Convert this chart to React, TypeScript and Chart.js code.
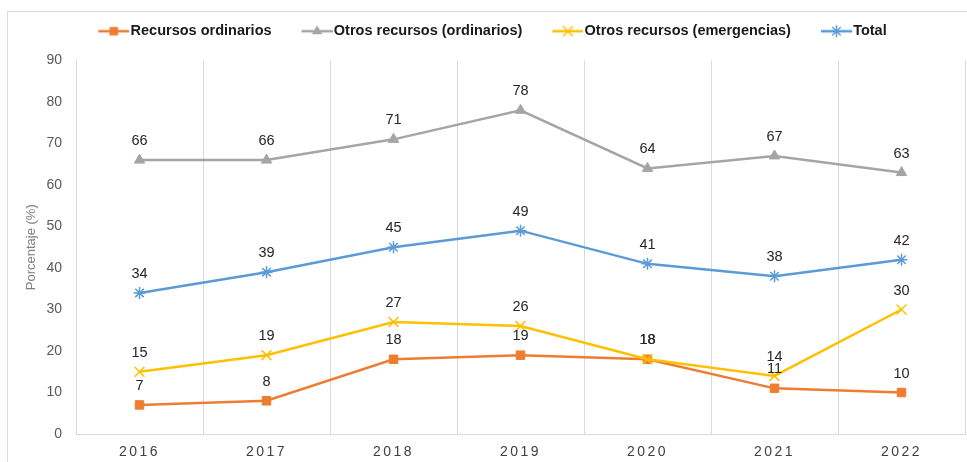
import React, { useEffect, useRef } from "react";
import { Chart, registerables } from "chart.js";

Chart.register(...registerables);

const categories = ["2016", "2017", "2018", "2019", "2020", "2021", "2022"];
const recursosOrdinarios = [7, 8, 18, 19, 18, 11, 10];
const otrosOrdinarios = [66, 66, 71, 78, 64, 67, 63];
const otrosEmergencias = [15, 19, 27, 26, 18, 14, 30];
const total = [34, 39, 45, 49, 41, 38, 42];
const seriesNames = [
  "Recursos ordinarios",
  "Otros recursos (ordinarios)",
  "Otros recursos (emergencias)",
  "Total",
];
const yTicks = [0, 10, 20, 30, 40, 50, 60, 70, 80, 90];

const FONT = "'Liberation Sans', Arial, sans-serif";
const colors = ["#ED7D31", "#A5A5A5", "#FFC000", "#5B9BD5"];
const markers = ["rect", "triangle", "crossRot", "star"];
const radii = [6, 6, 7, 6];

function drawMarker(ctx: CanvasRenderingContext2D, style: string, x: number, y: number, r: number, color: string) {
  ctx.fillStyle = color;
  ctx.strokeStyle = color;
  ctx.lineWidth = 1.5;
  ctx.beginPath();
  if (style === "rect") {
    const s = Math.SQRT1_2 * r;
    ctx.rect(x - s, y - s, 2 * s, 2 * s);
    ctx.fill();
  } else if (style === "triangle") {
    ctx.moveTo(x, y - r);
    ctx.lineTo(x + r * 0.866, y + r * 0.5);
    ctx.lineTo(x - r * 0.866, y + r * 0.5);
    ctx.closePath();
    ctx.fill();
  } else if (style === "crossRot") {
    const o = Math.SQRT1_2 * r;
    ctx.moveTo(x - o, y - o);
    ctx.lineTo(x + o, y + o);
    ctx.moveTo(x + o, y - o);
    ctx.lineTo(x - o, y + o);
    ctx.stroke();
  } else {
    const o = Math.SQRT1_2 * r;
    ctx.moveTo(x - o, y - o);
    ctx.lineTo(x + o, y + o);
    ctx.moveTo(x + o, y - o);
    ctx.lineTo(x - o, y + o);
    ctx.moveTo(x - r, y);
    ctx.lineTo(x + r, y);
    ctx.moveTo(x, y - r);
    ctx.lineTo(x, y + r);
    ctx.stroke();
  }
}

function legendImage(i: number): HTMLCanvasElement {
  const W = 57;
  const H = 14;
  const c = document.createElement("canvas");
  c.width = W;
  c.height = H;
  const ctx = c.getContext("2d")!;
  ctx.strokeStyle = colors[i];
  ctx.lineWidth = 2.5;
  ctx.beginPath();
  ctx.moveTo(W - 31, H / 2);
  ctx.lineTo(W, H / 2);
  ctx.stroke();
  drawMarker(ctx, markers[i], W - 15.5, H / 2, radii[i], colors[i]);
  return c;
}

const dataLabelPlugin = {
  id: "dataLabels",
  afterDatasetsDraw(chart: any) {
    const ctx = chart.ctx;
    ctx.save();
    ctx.font = `14.5px ${FONT}`;
    ctx.fillStyle = "#262626";
    ctx.textAlign = "center";
    ctx.textBaseline = "middle";
    chart.data.datasets.forEach((ds: any, di: number) => {
      const meta = chart.getDatasetMeta(di);
      meta.data.forEach((pt: any, i: number) => {
        ctx.fillText(String(ds.data[i]), pt.x, pt.y - 19);
      });
    });
    ctx.restore();
  },
};

const spacingPlugin = {
  id: "xLetterSpacing",
  beforeDraw(chart: any) {
    const sx = chart.scales.x;
    if (sx && !sx.__patched) {
      const orig = sx.drawLabels.bind(sx);
      sx.drawLabels = (area: any) => {
        const c = sx.ctx;
        c.save();
        (c as any).letterSpacing = "2.5px";
        orig(area);
        c.restore();
      };
      sx.__patched = true;
    }
  },
};

export default function App() {
  const ref = useRef<HTMLCanvasElement | null>(null);

  useEffect(() => {
    if (!ref.current) return;
    const seriesData = [recursosOrdinarios, otrosOrdinarios, otrosEmergencias, total];
    const images = [0, 1, 2, 3].map(legendImage);
    const chart = new Chart(ref.current, {
      type: "line",
      data: {
        labels: categories,
        datasets: seriesData.map((d, i) => ({
          label: seriesNames[i],
          data: d,
          borderColor: colors[i],
          backgroundColor: colors[i],
          borderWidth: 2.5,
          pointStyle: markers[i] as any,
          pointRadius: radii[i],
          pointHoverRadius: radii[i],
          pointBorderWidth: i >= 2 ? 1.5 : 1,
          pointBorderColor: colors[i],
          pointBackgroundColor: colors[i],
          tension: 0,
          fill: false,
          order: 4 - i,
        })),
      },
      options: {
        responsive: false,
        animation: false,
        layout: { autoPadding: false, padding: { top: 14, left: 0, right: 2, bottom: 0 } },
        scales: {
          x: {
            offset: true,
            grid: { display: true, offset: true, color: "#D9D9D9", drawTicks: false, lineWidth: 1 },
            border: { display: true, color: "#D9D9D9" },
            ticks: { color: "#404040", font: { family: FONT, size: 14 }, padding: 10 },
            afterFit: (s: any) => {
              s.height = 28;
              s.paddingLeft = 0;
              s.paddingRight = 0;
            },
          },
          y: {
            min: 0,
            max: 90,
            afterBuildTicks: (s: any) => {
              s.ticks = yTicks.map((v) => ({ value: v }));
            },
            grid: { display: false, drawTicks: false },
            border: { display: true, color: "#D9D9D9" },
            ticks: { color: "#595959", font: { family: FONT, size: 14 }, padding: 14 },
            title: {
              display: true,
              text: "Porcentaje (%)",
              color: "#808080",
              font: { family: FONT, size: 13 },
              padding: { top: 24, bottom: 4 },
            },
            afterFit: (s: any) => {
              s.width = 76;
            },
          },
        },
        plugins: {
          legend: {
            position: "top",
            labels: {
              usePointStyle: true,
              pointStyleWidth: 45,
              padding: 10,
              color: "#1a1a1a",
              font: { family: FONT, size: 14.5, weight: "bold" },
              generateLabels: (ch: any) =>
                ch.data.datasets.map((ds: any, i: number) => ({
                  text: ds.label,
                  fillStyle: colors[i],
                  strokeStyle: colors[i],
                  lineWidth: 0,
                  pointStyle: images[i],
                  hidden: false,
                  datasetIndex: i,
                  fontColor: "#1a1a1a",
                })),
            },
          },
          subtitle: {
            display: true,
            text: "",
            position: "top",
            weight: 500,
            padding: 0,
            font: { family: FONT, size: 10 },
          } as any,
          tooltip: { enabled: false },
        },
      },
      plugins: [dataLabelPlugin, spacingPlugin],
    });
    chart.draw();
    return () => chart.destroy();
  }, []);

  return (
    <div style={{ position: "fixed", left: 0, top: 0, width: 967, height: 462, overflow: "hidden", background: "#fff" }}>
      <div
        style={{
          position: "absolute",
          left: 7,
          top: 11,
          width: 980,
          height: 480,
          border: "1px solid #D9D9D9",
          boxSizing: "border-box",
        }}
      />
      <canvas ref={ref} width={967} height={462} style={{ position: "absolute", left: 0, top: 0, display: "block" }} />
    </div>
  );
}
